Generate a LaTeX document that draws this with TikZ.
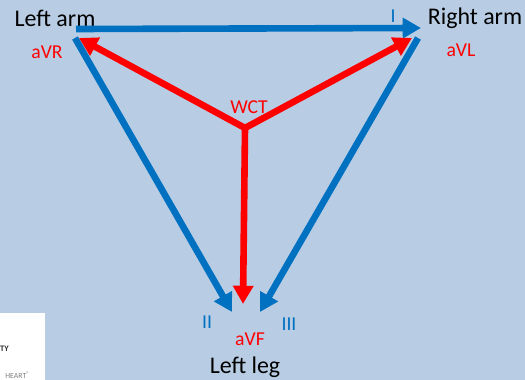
\documentclass[tikz,border=0pt]{standalone}
\usepackage{fontspec}
\setmainfont{Carlito}
\usetikzlibrary{arrows.meta}
\definecolor{panelblue}{RGB}{184,205,228}
\definecolor{leadblue}{RGB}{0,112,192}
\tikzset{
  leadline/.style={draw=leadblue,line width=4.7pt,-{Triangle[length=13pt,width=14pt]}},
  wctline/.style={draw=red,line width=4.7pt,-{Triangle[length=13pt,width=14pt]}},
  limblabel/.style={font=\fontsize{17}{20}\selectfont,text=black,inner sep=0pt},
  redlabel/.style={font=\fontsize{14}{16}\selectfont,text=red,inner sep=0pt},
  bluelabel/.style={font=\fontsize{14}{16}\selectfont,text=leadblue,inner sep=0pt},
}
\begin{document}
\begin{tikzpicture}[x=0.025cm,y=-0.025cm]
\useasboundingbox (0,0) rectangle (525,380);
\fill[panelblue] (0,0) rectangle (525,380);
\fill[white] (0,313) rectangle (45,380);
\node[anchor=east,inner sep=0pt,font=\fontsize{6}{7}\selectfont\bfseries,text=black!80] (logotop) at (9,349) {TY};
\node[anchor=east,inner sep=0pt,font=\fontsize{5.5}{6}\selectfont,text=black!50] (logobottom) at (30,375) {HEART\textsuperscript{\textregistered}};
% limbs
\node[limblabel] (leftarm) at (55,18) {Left arm};
\node[limblabel] (rightarm) at (475,18) {Right arm};
\node[limblabel] (leftleg) at (245,367) {Left leg};
\coordinate (wct) at (245,128);
\coordinate (la) at (76,29);
\coordinate (lafoot) at (75,38);
\coordinate (ra) at (421,28);
\coordinate (rafoot) at (418,38);
\coordinate (lltipa) at (232,312);
\coordinate (lltipb) at (260,312);
\coordinate (redla) at (79,38);
\coordinate (redra) at (412,38);
\coordinate (redll) at (243,304);
% einthoven triangle
\draw[leadline] (la) -- (ra);
\draw[leadline] (lafoot) -- (lltipa);
\draw[leadline] (rafoot) -- (lltipb);
% augmented leads
\draw[wctline] (wct) -- (redla);
\draw[wctline] (wct) -- (redra);
\draw[wctline] (wct) -- (redll);
\node[redlabel] (avr) at (47,52) {aVR};
\node[redlabel] (avl) at (461,50) {aVL};
\node[redlabel] (avf) at (250,339) {aVF};
\node[redlabel] (wctlabel) at (249,107) {WCT};
\node[bluelabel] (leadi) at (393,16) {I};
\node[bluelabel] (leadii) at (207,322) {II};
\node[bluelabel] (leadiii) at (289,324) {III};
\end{tikzpicture}
\end{document}
